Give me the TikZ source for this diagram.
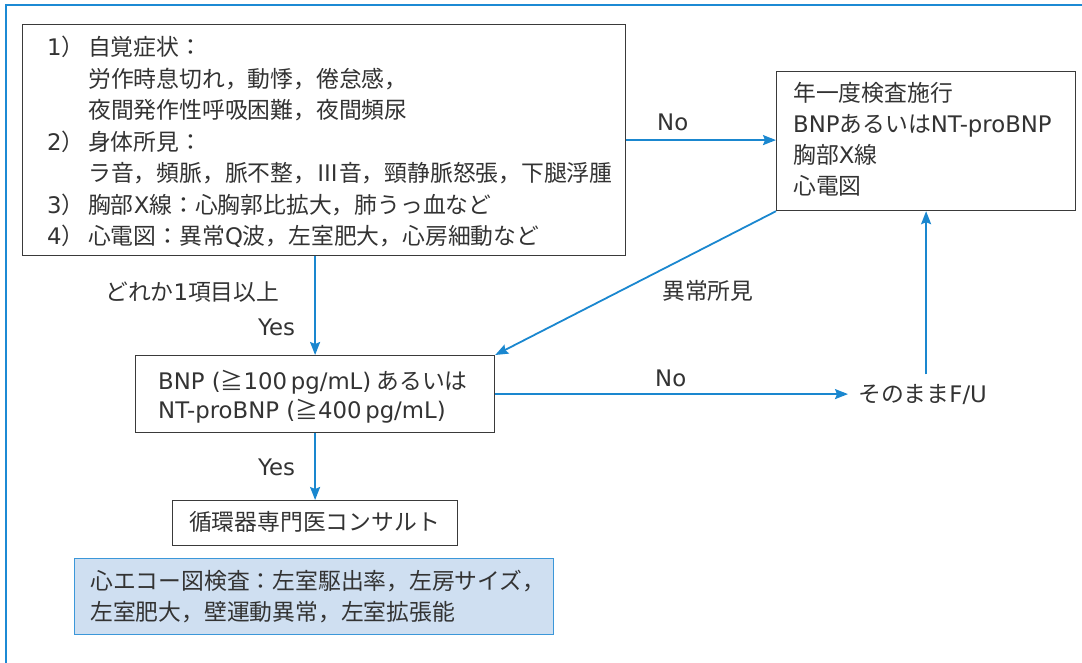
\documentclass[tikz,border=0pt]{standalone}
\usepackage{fontspec}
\setmainfont{Noto Sans CJK JP}
\newfontfamily\latfont{DejaVu Sans}
\newcommand\latn[1]{{\latfont #1}}
\usetikzlibrary{arrows.meta}
\definecolor{frameblue}{HTML}{1C8AD4}
\definecolor{lineblue}{HTML}{1A87CF}
\definecolor{txtc}{HTML}{333333}
\definecolor{boxc}{HTML}{3A3A3A}
\definecolor{echofill}{HTML}{CFDFF1}
\definecolor{echoline}{HTML}{3B97D9}
\begin{document}
\begin{tikzpicture}[x=1pt,y=-1pt,
 box/.style={draw=boxc, line width=1.2pt, rectangle, inner sep=0pt, anchor=north west},
 txt/.style={anchor=base west, inner sep=0pt, text=txtc, font=\fontsize{22.8}{30}\selectfont},
 conn/.style={draw=lineblue, line width=1.8pt, -{Stealth[length=13pt,width=10pt,inset=2pt]}},
]
\useasboundingbox (0,0) rectangle (1082,663);
\draw[frameblue, line width=2pt] (6,680) -- (6,5.5) -- (1100,5.5);

% boxes
\node[box, minimum width=603pt, minimum height=231pt] (sym) at (22,24) {};
\node[box, minimum width=299pt, minimum height=139pt] (annual) at (776,71) {};
\node[box, minimum width=359pt, minimum height=77pt] (bnp) at (135,355) {};
\node[box, minimum width=285pt, minimum height=45pt] (consult) at (172,500) {};
\node[box, draw=echoline, fill=echofill, minimum width=479pt, minimum height=76pt] (echo) at (74,558) {};

% symptom text
\node[txt] (s1) at (47,55.6) {\makebox[41pt][l]{\latn{1}）}自覚症状：};
\node[txt] (s2) at (88,87.1) {労作時息切れ，動悸，倦怠感，};
\node[txt] (s3) at (88,118.6) {夜間発作性呼吸困難，夜間頻尿};
\node[txt] (s4) at (47,150.1) {\makebox[41pt][l]{\latn{2}）}身体所見：};
\node[txt] (s5) at (88,181.6) {ラ音，頻脈，脈不整，Ⅲ音，頸静脈怒張，下腿浮腫};
\node[txt] (s6) at (47,213.1) {\makebox[41pt][l]{\latn{3}）}胸部\latn{X}線：心胸郭比拡大，肺うっ血など};
\node[txt] (s7) at (47,244.6) {\makebox[41pt][l]{\latn{4}）}心電図：異常\latn{Q}波，左室肥大，心房細動など};

% annual text
\node[txt] (a1) at (793,101.6) {年一度検査施行};
\node[txt] (a2) at (793,132.6) {\latn{BNP}あるいは\latn{NT-proBNP}};
\node[txt] (a3) at (793,163.6) {胸部\latn{X}線};
\node[txt] (a4) at (793,194.6) {心電図};

% bnp text
\node[txt] (b1) at (158,389.6) {\latn{BNP (}≧\latn{100\,pg/mL)} あるいは};
\node[txt] (b2) at (158,418.6) {\latn{NT-proBNP (}≧\latn{400\,pg/mL)}};

% consult text
\node[txt, anchor=base] (c1) at (314.5,530.6) {循環器専門医コンサルト};

% echo text
\node[txt] (e1) at (90,589.6) {心エコー図検査：左室駆出率，左房サイズ，};
\node[txt] (e2) at (90,620.6) {左室肥大，壁運動異常，左室拡張能};

% follow-up
\node[txt, inner xsep=10pt, inner ysep=10pt] (fu) at (848,402.6) {そのまま\latn{F/U}};

% labels
\node[txt] (lno1) at (657,130.3) {\latn{No}};
\node[txt] (lany) at (105,300.6) {どれか\latn{1}項目以上};
\node[txt] (lyes1) at (258,335.3) {\latn{Yes}};
\node[txt] (labn) at (662,299.6) {異常所見};
\node[txt] (lno2) at (655,386.3) {\latn{No}};
\node[txt] (lyes2) at (258,475.3) {\latn{Yes}};

% connectors
\draw[conn] (sym.east) -- (sym.east -| annual.west);
\draw[conn] (bnp.north |- sym.south) -- (bnp.north);
\draw[conn] (annual.south west) -- (bnp.north east);
\draw[conn] (bnp.south) -- (consult.north);
\draw[conn] (bnp.east) -- (bnp.east -| fu.west);
\draw[conn] (annual.south |- fu.north) -- (annual.south);
\end{tikzpicture}
\end{document}
